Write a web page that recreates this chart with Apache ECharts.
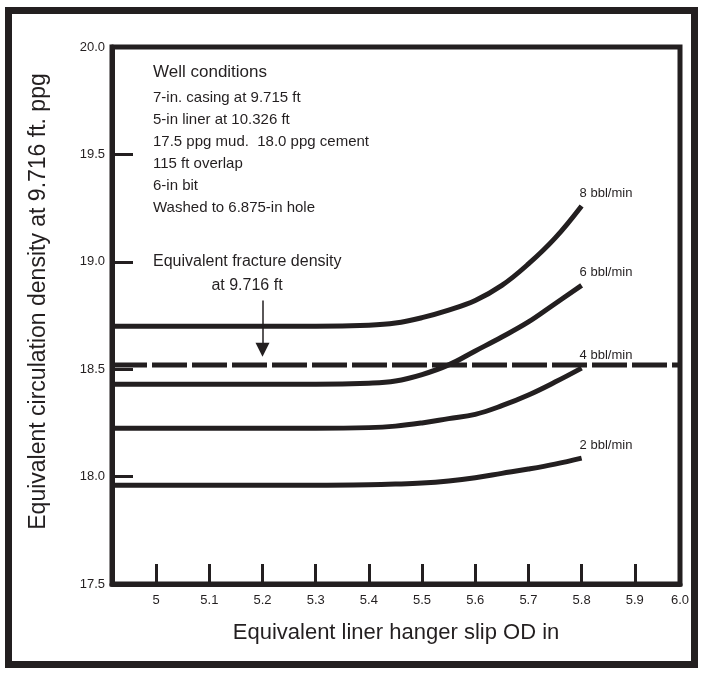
<!DOCTYPE html>
<html>
<head>
<meta charset="utf-8">
<script src="https://cdn.jsdelivr.net/npm/echarts@6/dist/echarts.min.js"></script>
<style>
  html, body { margin: 0; padding: 0; background: #fff; }
  #main { width: 702px; height: 673px; position: relative; }
  #frame { position: absolute; left: 5px; top: 7px; width: 679px; height: 647px;
           border: 7px solid #231f20; pointer-events: none; }
</style>
</head>
<body>
<div id="main"></div>
<div id="frame"></div>
<script>
// x range of the drawn box (the reference box is not quite uniform)
const X_MIN = 4.917;
const X_MAX = 5.985;

const xTickValues = [5, 5.1, 5.2, 5.3, 5.4, 5.5, 5.6, 5.7, 5.8, 5.9];
const xLabelValues = [5, 5.1, 5.2, 5.3, 5.4, 5.5, 5.6, 5.7, 5.8, 5.9, X_MAX];
const xLabelText = ['5', '5.1', '5.2', '5.3', '5.4', '5.5', '5.6', '5.7', '5.8', '5.9', '6.0'];
const yTickValues = [18, 18.5, 19, 19.5];

// slip OD (in) sampled along each curve
const slipOD = [X_MIN, 5.3, 5.4, 5.45, 5.5, 5.55, 5.6, 5.65, 5.7, 5.75, 5.8];
const ecd8 = [18.70, 18.70, 18.705, 18.715, 18.74, 18.775, 18.82, 18.89, 18.99, 19.11, 19.26];
const ecd6 = [18.43, 18.43, 18.435, 18.445, 18.475, 18.52, 18.585, 18.65, 18.72, 18.805, 18.89];
const ecd4 = [18.225, 18.225, 18.228, 18.235, 18.25, 18.27, 18.29, 18.33, 18.38, 18.44, 18.505];
const ecd2 = [17.96, 17.96, 17.962, 17.965, 17.97, 17.98, 17.995, 18.015, 18.035, 18.058, 18.086];
const rateNames = ['8 bbl/min', '6 bbl/min', '4 bbl/min', '2 bbl/min'];

const fractureECD = 18.52;
const arrowX = 5.2;
const arrowFrom = 18.82;
const arrowTo = 18.59;

const wellConditions = [
  '7-in. casing at 9.715 ft',
  '5-in liner at 10.326 ft',
  '17.5 ppg mud.  18.0 ppg cement',
  '115 ft overlap',
  '6-in bit',
  'Washed to 6.875-in hole'
];

const INK = '#231f20';
const FONT = '"Liberation Sans", Arial, sans-serif';

const chart = echarts.init(document.getElementById('main'), null, { renderer: 'canvas' });

function curve(name, ys) {
  return {
    name: name,
    type: 'line',
    data: slipOD.map((x, i) => [x, ys[i]]),
    smooth: 0.4,
    showSymbol: false,
    symbol: 'none',
    lineStyle: { color: INK, width: 5 },
    endLabel: {
      show: true,
      formatter: name,
      color: INK,
      fontSize: 13,
      fontFamily: FONT,
      offset: [-10, -13]
    },
    silent: true,
    z: 3
  };
}

const graphics = [{
  type: 'text', left: 153, top: 64,
  style: { text: 'Well conditions', fill: INK, font: '17px ' + FONT }
}];
wellConditions.forEach((t, i) => {
  graphics.push({
    type: 'text', left: 153, top: 90 + i * 22,
    style: { text: t, fill: INK, font: '15px ' + FONT }
  });
});
graphics.push({
  type: 'text', left: 153, top: 254,
  style: { text: 'Equivalent fracture density', fill: INK, font: '16px ' + FONT }
});
graphics.push({
  type: 'text', x: 247, y: 278,
  style: { text: 'at 9.716 ft', fill: INK, font: '16px ' + FONT, textAlign: 'center' }
});

const option = {
  animation: false,
  backgroundColor: '#fff',
  grid: {
    left: 112, right: 22, top: 47, bottom: 89,
    show: true, borderColor: INK, borderWidth: 5,
    outerBoundsMode: 'none', containLabel: false
  },
  xAxis: {
    type: 'value',
    min: X_MIN, max: X_MAX,
    name: 'Equivalent liner hanger slip OD in',
    nameLocation: 'middle',
    nameGap: 38,
    nameTextStyle: { color: INK, fontSize: 22, fontFamily: FONT },
    axisLine: { show: true, lineStyle: { color: INK, width: 5 } },
    axisTick: {
      show: true, inside: true, length: 20,
      customValues: xTickValues,
      lineStyle: { color: INK, width: 3 }
    },
    axisLabel: {
      show: true, margin: 10,
      customValues: xLabelValues,
      color: INK, fontSize: 13, fontFamily: FONT,
      formatter: v => {
        const i = xLabelValues.findIndex(u => Math.abs(u - v) < 1e-6);
        return i >= 0 ? xLabelText[i] : '';
      }
    },
    splitLine: { show: false }
  },
  yAxis: {
    type: 'value',
    min: 17.5, max: 20, interval: 0.5,
    name: 'Equivalent circulation density at 9.716 ft. ppg',
    nameLocation: 'middle',
    nameGap: 62,
    nameTextStyle: { color: INK, fontSize: 23, fontFamily: FONT, padding: [0, 0, 0, 28] },
    axisLine: { show: true, lineStyle: { color: INK, width: 5 } },
    axisTick: {
      show: true, inside: true, length: 21,
      customValues: yTickValues,
      lineStyle: { color: INK, width: 3 }
    },
    axisLabel: {
      show: true, margin: 7,
      color: INK, fontSize: 13, fontFamily: FONT,
      formatter: v => v.toFixed(1)
    },
    splitLine: { show: false }
  },
  series: [
    curve(rateNames[0], ecd8),
    curve(rateNames[1], ecd6),
    curve(rateNames[2], ecd4),
    curve(rateNames[3], ecd2),
    {
      name: 'fracture',
      type: 'line',
      data: [[X_MIN, fractureECD], [X_MAX, fractureECD]],
      showSymbol: false,
      symbol: 'none',
      lineStyle: { color: INK, width: 5, type: [35, 5], cap: 'butt' },
      silent: true,
      z: 4,
      markLine: {
        silent: true,
        symbol: ['none', 'triangle'],
        symbolSize: 14,
        symbolRotate: 180,
        label: { show: false },
        lineStyle: { color: INK, width: 1.5, type: 'solid' },
        itemStyle: { color: INK },
        data: [[{ coord: [arrowX, arrowFrom] }, { coord: [arrowX, arrowTo] }]]
      }
    }
  ],
  graphic: graphics
};

chart.setOption(option);
</script>
</body>
</html>
